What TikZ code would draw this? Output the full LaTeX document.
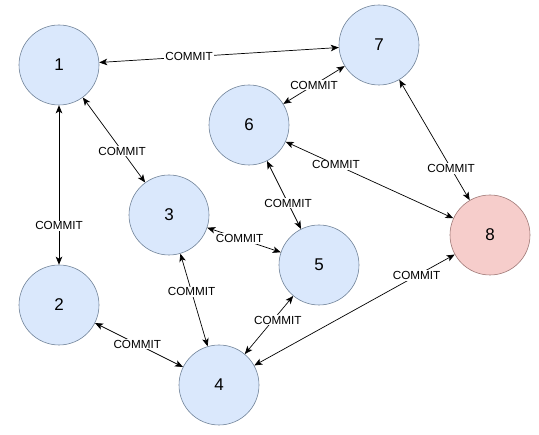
\documentclass[tikz,border=0pt]{standalone}
\usepackage{fontspec}
\setmainfont{Liberation Sans}
\usetikzlibrary{arrows.meta}
\definecolor{bluefill}{HTML}{DAE8FC}
\definecolor{bluedraw}{HTML}{72849A}
\definecolor{pinkfill}{HTML}{F6CDCB}
\definecolor{pinkdraw}{HTML}{A07A78}
\tikzset{
  state/.style={circle, minimum size=80pt, inner sep=0pt, fill=bluefill, draw=bluedraw, line width=0.6pt, font=\fontsize{17}{17}\selectfont},
  statepink/.style={state, fill=pinkfill, draw=pinkdraw},
  conn/.style={{Stealth[length=8pt,width=6.5pt,inset=2pt]}-{Stealth[length=8pt,width=6.5pt,inset=2pt]}, line width=0.7pt, black},
  lbl/.style={fill=white, inner sep=1pt, font=\fontsize{11.7}{11.7}\selectfont}
}
\begin{document}
\begin{tikzpicture}[x=1pt,y=-1pt]
\useasboundingbox (0,0) rectangle (539,435);
\fill[white] (0,0) rectangle (539,435);
\node[state] (n1) at (59,65) {1};
\node[state] (n7) at (379,45) {7};
\node[state] (n6) at (249,125) {6};
\node[state] (n3) at (169,215) {3};
\node[state] (n5) at (319,265) {5};
\node[statepink] (n8) at (490,235) {8};
\node[state] (n2) at (59,305) {2};
\node[state] (n4) at (219,385) {4};
\draw[conn] (n1) -- node[lbl, pos=0.375] {COMMIT} (n7);
\draw[conn] (n1) -- node[lbl, pos=0.63] {COMMIT} (n3);
\draw[conn] (n1) -- node[lbl, pos=0.755] {COMMIT} (n2);
\draw[conn] (n2) -- node[lbl, pos=0.48] {COMMIT} (n4);
\draw[conn] (n3) -- node[lbl, pos=0.41] {COMMIT} (n4);
\draw[conn] (n3) -- node[lbl, pos=0.44] {COMMIT} (n5);
\draw[conn] (n6) -- node[lbl, pos=0.5] {COMMIT} (n7);
\draw[conn] (n6) -- node[lbl, pos=0.62] {COMMIT} (n5);
\draw[conn] (n6) -- node[lbl, pos=0.30] {COMMIT} (n8);
\draw[conn] (n7) -- node[lbl, pos=0.736] {COMMIT} (n8);
\draw[conn] (n4) -- node[lbl, pos=0.58, xshift=5pt] {COMMIT} (n5);
\draw[conn] (n4) -- node[lbl, pos=0.81] {COMMIT} (n8);
\end{tikzpicture}
\end{document}
